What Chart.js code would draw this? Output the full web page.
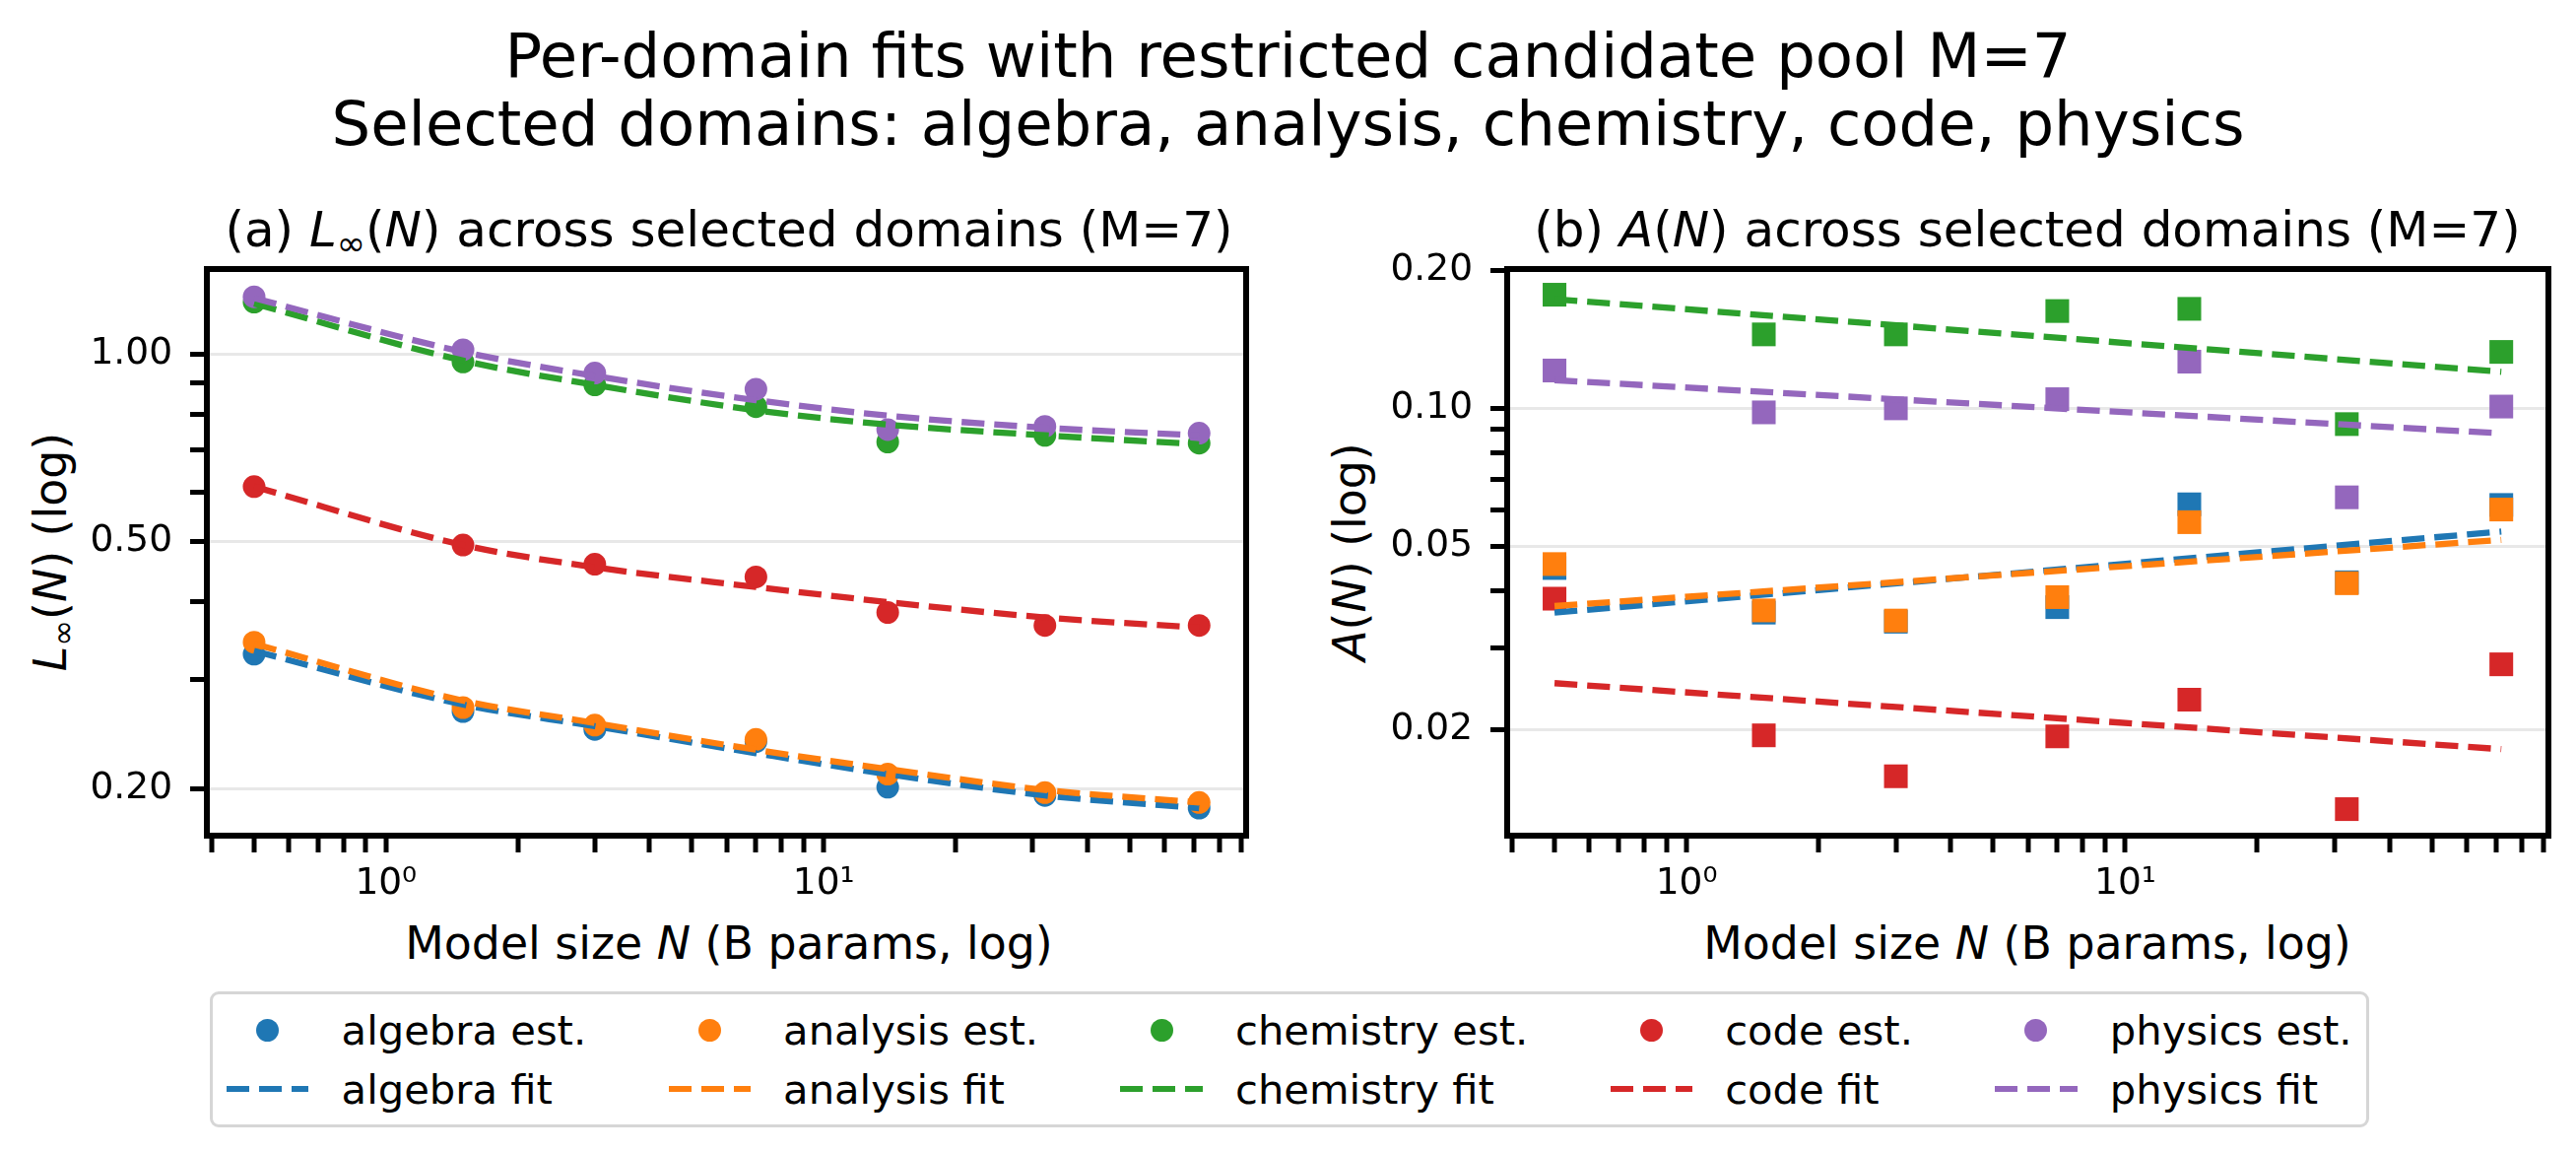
<!DOCTYPE html>
<html><head><meta charset="utf-8">
<script src="https://cdn.jsdelivr.net/npm/chart.js@4.4.1/dist/chart.umd.min.js"></script>
<style>
html,body{margin:0;padding:0;background:#fff;width:2615px;height:1169px;overflow:hidden;font-family:'DejaVu Sans';color:#000;}
.abs{position:absolute;white-space:nowrap;}
canvas{position:absolute;}
.sup{left:0;width:2615px;top:22px;text-align:center;font-size:62.5px;line-height:69px;}
.ptitle{font-size:50px;line-height:1.164;transform:translateX(-50%);top:204px;}
.xlab{font-size:45.8px;line-height:1.164;transform:translateX(-50%);top:931px;}
.ylab{font-size:45.8px;line-height:1.164;transform:translate(-50%,-50%) rotate(-90deg);top:560px;}
sub{font-size:0.7em;vertical-align:-0.25em;line-height:0;}
#legend{position:absolute;left:213px;top:1006px;border:3px solid #d6d6d6;border-radius:9px;padding:6px 14px 6px 14px;display:grid;grid-template-rows:60px 60px;grid-auto-flow:column;column-gap:83.3px;font-size:41.7px;background:#fff;}
.item{display:flex;align-items:center;white-space:nowrap;}
.handle{width:83.3px;height:24px;margin-right:33.3px;display:flex;align-items:center;justify-content:center;flex:none;}
.dot{width:23px;height:23px;border-radius:50%;}
.dash{width:83.3px;height:6.3px;}
</style></head>
<body>
<div class="abs sup">Per-domain fits with restricted candidate pool M=7<br>Selected domains: algebra, analysis, chemistry, code, physics</div>
<div class="abs ptitle" style="left:740px">(a) <i>L</i><sub>∞</sub>(<i>N</i>) across selected domains (M=7)</div>
<div class="abs ptitle" style="left:2058px">(b) <i>A</i>(<i>N</i>) across selected domains (M=7)</div>
<div class="abs xlab" style="left:740px">Model size <i>N</i> (B params, log)</div>
<div class="abs xlab" style="left:2058px">Model size <i>N</i> (B params, log)</div>
<div class="abs ylab" style="left:52px"><i>L</i><sub>∞</sub>(<i>N</i>) (log)</div>
<div class="abs ylab" style="left:1371px"><i>A</i>(<i>N</i>) (log)</div>
<canvas id="ca" width="1300" height="700" style="left:0;top:220px"></canvas>
<canvas id="cb" width="1295" height="700" style="left:1320px;top:220px"></canvas>
<div id="legend"></div>
<script>
// ---------- data ----------
const modelSizes = [0.5, 1.5, 3, 7, 14, 32, 72];
const domainNames = ['algebra', 'analysis', 'chemistry', 'code', 'physics'];

// Panel (a): L_inf(N) estimates
const linfEstAlgebra   = [0.329, 0.266, 0.249, 0.238, 0.201, 0.195, 0.186];
const linfEstAnalysis  = [0.344, 0.270, 0.253, 0.240, 0.211, 0.197, 0.190];
const linfEstChemistry = [1.212, 0.971, 0.892, 0.823, 0.722, 0.740, 0.719];
const linfEstCode      = [0.612, 0.493, 0.459, 0.438, 0.384, 0.366, 0.366];
const linfEstPhysics   = [1.236, 1.016, 0.932, 0.878, 0.756, 0.765, 0.746];
// Panel (a): L_inf(N) fits
const linfFitAlgebra   = [0.333, 0.273, 0.252, 0.228, 0.211, 0.195, 0.186];
const linfFitAnalysis  = [0.342, 0.277, 0.255, 0.231, 0.215, 0.199, 0.190];
const linfFitChemistry = [1.206, 0.976, 0.892, 0.812, 0.770, 0.740, 0.716];
const linfFitCode      = [0.612, 0.493, 0.454, 0.422, 0.399, 0.377, 0.363];
const linfFitPhysics   = [1.230, 1.008, 0.922, 0.843, 0.796, 0.761, 0.740];

// Panel (b): A(N) estimates
const aEstAlgebra   = [0.0449, 0.0359, 0.0343, 0.0369, 0.0618, 0.0418, 0.0616];
const aEstAnalysis  = [0.0458, 0.0363, 0.0345, 0.0388, 0.0565, 0.0416, 0.0602];
const aEstChemistry = [0.1768, 0.1449, 0.1449, 0.1629, 0.1647, 0.0924, 0.1327];
const aEstCode      = [0.0385, 0.0194, 0.0158, 0.0193, 0.0232, 0.0134, 0.0277];
const aEstPhysics   = [0.1209, 0.0980, 0.1000, 0.1047, 0.1264, 0.0640, 0.1009];
// Panel (b): A(N) power-law fits (straight in log-log), end points
const aFitSizes     = [0.5, 72];
const aFitAlgebra   = [0.0359, 0.0539];
const aFitAnalysis  = [0.0371, 0.0517];
const aFitChemistry = [0.1729, 0.1201];
const aFitCode      = [0.0252, 0.0181];
const aFitPhysics   = [0.1152, 0.0882];

// tick values / labels
const xTickValues = [0.4,0.5,0.6,0.7,0.8,0.9,1,2,3,4,5,6,7,8,9,10,20,30,40,50,60,70,80,90];
const xTickLabelValues = [1, 10];
const xTickLabelTexts = ['10\u2070', '10\u00b9'];
const linfTickValues = [0.2,0.3,0.4,0.5,0.6,0.7,0.8,0.9,1.0];
const linfTickLabelValues = [0.2, 0.5, 1.0];
const aTickValues = [0.02,0.03,0.04,0.05,0.06,0.07,0.08,0.09,0.1,0.2];
const aTickLabelValues = [0.02, 0.05, 0.1, 0.2];

// ---------- styling ----------
const colors = ['#1f77b4', '#ff7f0e', '#2ca02c', '#d62728', '#9467bd'];
Chart.defaults.font.family = 'DejaVu Sans';
Chart.defaults.color = '#000';

const near = (a, b) => Math.abs(a - b) < 1e-9 * Math.max(1, Math.abs(b));
const findIdx = (arr, v) => arr.findIndex(t => near(t, v));

const framePlugin = {
  id: 'frame',
  afterDatasetsDraw(chart) {
    const {ctx, chartArea: a} = chart;
    ctx.save();
    ctx.strokeStyle = '#000';
    ctx.lineWidth = 6;
    ctx.strokeRect(a.left, a.top, a.right - a.left, a.bottom - a.top);
    ctx.restore();
  }
};

function makeChart(id, estArrays, fitX, fitArrays, pointStyle, radius, curved, yMin, yMax, yTicks, yLabeled, padRight) {
  const datasets = [];
  domainNames.forEach((d, i) => {
    datasets.push({
      label: d + ' est.',
      data: modelSizes.map((x, j) => ({x: x, y: estArrays[i][j]})),
      showLine: false,
      pointStyle: pointStyle,
      pointRadius: radius,
      pointBackgroundColor: colors[i],
      pointBorderColor: colors[i],
      pointBorderWidth: 0,
      backgroundColor: colors[i],
      borderColor: colors[i],
      order: 9 - i
    });
  });
  domainNames.forEach((d, i) => {
    datasets.push({
      label: d + ' fit',
      data: fitX.map((x, j) => ({x: x, y: fitArrays[i][j]})),
      showLine: true,
      pointRadius: 0,
      borderColor: colors[i],
      backgroundColor: colors[i],
      borderWidth: 6.3,
      borderDash: [23.2, 10],
      borderCapStyle: 'butt',
      cubicInterpolationMode: curved ? 'monotone' : 'default',
      tension: 0,
      fill: false,
      order: 4 - i
    });
  });
  return new Chart(document.getElementById(id), {
    type: 'scatter',
    data: {datasets: datasets},
    plugins: [framePlugin],
    options: {
      responsive: false,
      animation: false,
      devicePixelRatio: 1,
      events: [],
      layout: {padding: {top: 53, right: padRight, left: 0, bottom: 0}},
      plugins: {legend: {display: false}, tooltip: {enabled: false}, title: {display: false}},
      scales: {
        x: {
          type: 'logarithmic', position: 'bottom', min: 0.39, max: 92.2,
          afterBuildTicks: s => { s.ticks = xTickValues.map(v => ({value: v})); },
          afterFit: s => { s.height = 72; },
          border: {display: false},
          grid: {color: 'rgba(0,0,0,0)', lineWidth: 0, tickColor: '#000', tickLength: 17, tickWidth: 5},
          ticks: {
            autoSkip: false, maxRotation: 0, minRotation: 0, padding: 10,
            font: {size: 37.5}, color: '#000',
            callback: v => { const k = findIdx(xTickLabelValues, v); return k >= 0 ? xTickLabelTexts[k] : ''; }
          }
        },
        y: {
          type: 'logarithmic', position: 'left', min: yMin, max: yMax,
          afterBuildTicks: s => { s.ticks = yTicks.map(v => ({value: v})); },
          afterFit: s => { s.width = 210; },
          border: {display: false},
          grid: {
            color: c => (c.tick && findIdx(yLabeled, c.tick.value) >= 0) ? '#e8e8e8' : 'rgba(0,0,0,0)',
            lineWidth: 3, tickColor: '#000', tickLength: 17, tickWidth: 5
          },
          ticks: {
            autoSkip: false, padding: 18, font: {size: 37.5}, color: '#000',
            callback: v => findIdx(yLabeled, v) >= 0 ? Number(v).toFixed(2) : ''
          }
        }
      }
    }
  });
}

makeChart('ca',
  [linfEstAlgebra, linfEstAnalysis, linfEstChemistry, linfEstCode, linfEstPhysics],
  modelSizes,
  [linfFitAlgebra, linfFitAnalysis, linfFitChemistry, linfFitCode, linfFitPhysics],
  'circle', 11.5, true, 0.168, 1.37, linfTickValues, linfTickLabelValues, 35);

makeChart('cb',
  [aEstAlgebra, aEstAnalysis, aEstChemistry, aEstCode, aEstPhysics],
  aFitSizes,
  [aFitAlgebra, aFitAnalysis, aFitChemistry, aFitCode, aFitPhysics],
  'rect', 17, false, 0.01173, 0.2011, aTickValues, aTickLabelValues, 28);

// ---------- legend (HTML) ----------
const legend = document.getElementById('legend');
domainNames.forEach((d, i) => {
  const est = document.createElement('div');
  est.className = 'item';
  est.innerHTML = '<span class="handle"><span class="dot" style="background:' + colors[i] + '"></span></span><span>' + d + ' est.</span>';
  const fit = document.createElement('div');
  fit.className = 'item';
  fit.innerHTML = '<span class="handle"><span class="dash" style="background:repeating-linear-gradient(to right,' + colors[i] + ' 0 23.2px, transparent 23.2px 33.2px)"></span></span><span>' + d + ' fit</span>';
  legend.appendChild(est);
  legend.appendChild(fit);
});
</script>
</body></html>
